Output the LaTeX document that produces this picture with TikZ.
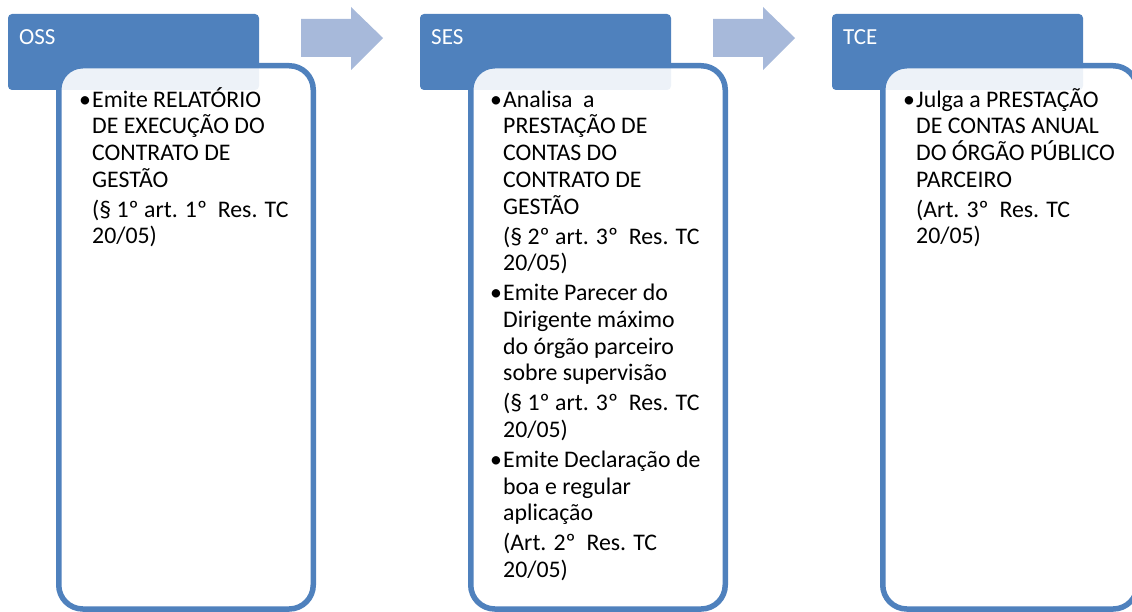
\documentclass[tikz,border=0pt]{standalone}
\usepackage{fontspec}
\setmainfont{Carlito}
\usepackage{tikz}
\usetikzlibrary{positioning}
\setlength{\parindent}{0pt}

\definecolor{hdrblue}{RGB}{79,129,189}
\definecolor{arrowblue}{RGB}{167,185,218}

\newcommand{\itembul}{\leavevmode\llap{\makebox[13pt][l]{•}}}

\tikzset{
  hdr/.style={fill=hdrblue, rounded corners=4pt},
  panel/.style={draw=hdrblue, line width=5.5pt, fill=white, fill opacity=0.9, rounded corners=24pt},
  hdrtext/.style={anchor=base west, inner sep=0pt, text=white, font=\fontsize{23}{26.7}\selectfont},
  items/.style={anchor=north west, inner sep=0pt, align=left, font=\fontsize{23.8}{26.7}\selectfont},
  flow/.style={fill=arrowblue}
}

\begin{document}
\begin{tikzpicture}[x=1pt,y=-1pt]
  \useasboundingbox (0,0) rectangle (1132,612);
  % headers
  \path[hdr] (8,14) rectangle (259,90);
  \path[hdr] (420,14) rectangle (671,90);
  \path[hdr] (832,14) rectangle (1083,90);
  \node[hdrtext] (oss) at (19,45) {OSS};
  \node[hdrtext] (ses) at (431,45) {SES};
  \node[hdrtext] (tce) at (843,45) {TCE};
  % panels
  \path[panel] (58.75,65.75) rectangle (313.25,609);
  \path[panel] (470.75,65.75) rectangle (725.25,609);
  \path[panel] (882.75,65.75) rectangle (1137.25,609);
  % flow arrows
  \fill[flow] (301,19) -- (351,19) -- (351,7) -- (383,38) -- (351,70) -- (351,57) -- (301,57) -- cycle;
  \fill[flow] (713,19) -- (763,19) -- (763,7) -- (795,38) -- (763,70) -- (763,57) -- (713,57) -- cycle;
  % texts
  \node[items] (ossitems) at (92,85) {\rule{0pt}{22pt}\itembul Emite RELATÓRIO\\
    DE EXECUÇÃO DO\\ CONTRATO DE\\ GESTÃO\\[3.3pt]
    (§ 1º art. 1º~ Res. TC\\ 20/05)};
  \node[items] (sesitems) at (503,85) {\rule{0pt}{22pt}\itembul Analisa~ a\\
    PRESTAÇÃO DE\\ CONTAS DO\\ CONTRATO DE\\ GESTÃO\\[3.3pt]
    (§ 2º art. 3º~ Res. TC\\ 20/05)\\[3.3pt]
    \itembul Emite Parecer do\\ Dirigente máximo\\ do órgão parceiro\\ sobre supervisão\\[3.3pt]
    (§ 1º art. 3º~ Res. TC\\ 20/05)\\[3.3pt]
    \itembul Emite Declaração de\\ boa e regular\\ aplicação\\[3.3pt]
    (Art. 2º~ Res. TC\\ 20/05)};
  \node[items] (tceitems) at (916,85) {\rule{0pt}{22pt}\itembul Julga a PRESTAÇÃO\\
    DE CONTAS ANUAL\\ DO ÓRGÃO PÚBLICO\\ PARCEIRO\\[3.3pt]
    (Art. 3º~ Res. TC\\ 20/05)};
\end{tikzpicture}
\end{document}
